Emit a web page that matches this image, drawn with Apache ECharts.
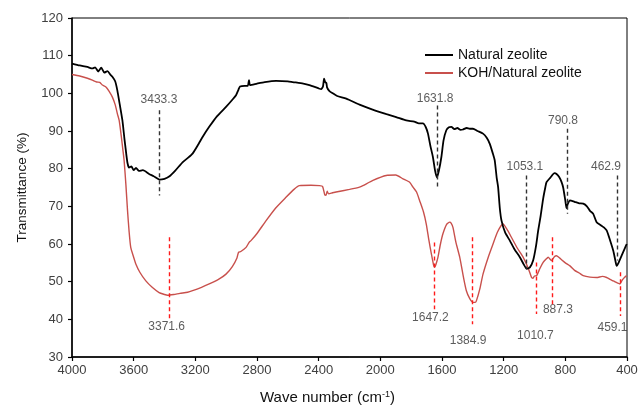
<!DOCTYPE html>
<html>
<head>
<meta charset="utf-8">
<script src="https://cdn.jsdelivr.net/npm/echarts@6/dist/echarts.min.js"></script>
<style>html,body{margin:0;padding:0;background:#fff}#c{width:640px;height:407px}</style>
</head>
<body>
<div id="c"></div>
<script>
// ---- Data ----
const seriesNames = ['Natural zeolite', 'KOH/Natural zeolite'];
const xTicks = [4000, 3600, 3200, 2800, 2400, 2000, 1600, 1200, 800, 400];
const yTicks = [30, 40, 50, 60, 70, 80, 90, 100, 110, 120];

// Natural zeolite: wavenumber / transmittance
const natWave = [4000,3950,3900,3868,3850,3830,3810,3790,3770,3750,3738,3720,3706,3690,3673,3660,3651,3640,3630,3615,3600,3585,3565,3540,3500,3470,3433,3400,3370,3330,3283,3250,3218,3180,3150,3110,3060,3001,2960,2936,2920,2910,2880,2860,2852,2845,2800,2750,2676,2600,2568,2500,2460,2400,2384,2372,2365,2358,2350,2345,2330,2308,2280,2221,2135,2050,1960,1897,1832,1780,1750,1724,1705,1691,1675,1659,1645,1633,1620,1604,1590,1572,1555,1539,1520,1500,1480,1464,1440,1420,1399,1370,1334,1310,1290,1270,1258,1245,1236,1225,1214,1190,1160,1130,1095,1070,1050,1030,1009,990,976,960,944,930,922,900,870,857,840,825,814,800,792,785,770,740,710,684,660,640,619,597,570,550,532,510,489,475,467,455,435,415,402];
const natT = [107.9,107.4,107.0,106.6,106.9,105.8,106.8,105.5,105.9,104.9,104.4,103.2,100.8,97.0,92.8,88.0,84.9,81.5,80.3,80.6,79.6,80.2,79.4,79.6,78.6,78.0,77.1,77.3,77.9,79.5,81.7,82.8,84.0,86.5,88.6,91.1,93.9,96.4,98.3,99.5,101.0,101.8,102.0,102.0,103.5,102.2,102.6,103.0,103.3,103.2,103.0,102.6,102.2,101.3,101.1,101.8,103.9,103.0,102.7,101.5,100.6,100.0,99.3,98.6,97.0,95.7,94.5,93.7,92.8,92.5,92.0,92.0,91.0,89.3,86.0,83.1,79.5,77.7,79.5,83.1,87.5,90.2,91.0,91.1,90.5,90.8,90.3,90.4,90.8,90.6,90.6,90.0,89.3,88.2,86.6,84.0,82.2,77.5,75.1,69.5,66.2,63.0,60.9,58.6,56.5,54.6,53.4,53.8,55.6,59.5,63.6,67.5,72.0,75.0,76.4,77.5,78.8,78.6,77.8,76.5,75.0,71.5,69.5,70.5,71.6,71.2,70.8,70.7,70.0,68.8,68.0,65.8,65.0,64.4,63.6,61.0,58.2,55.5,54.2,55.0,56.9,58.8,60.0];

// KOH/Natural zeolite: wavenumber / transmittance
const kohWave = [4000,3950,3900,3868,3840,3820,3803,3780,3760,3738,3720,3705,3694,3680,3670,3662,3650,3640,3630,3619,3600,3586,3560,3521,3480,3435,3400,3381,3340,3300,3250,3218,3160,3110,3050,3001,2960,2930,2920,2905,2871,2850,2839,2800,2741,2680,2612,2560,2525,2450,2395,2375,2360,2352,2345,2335,2310,2287,2200,2135,2113,2048,1962,1900,1853,1810,1788,1765,1745,1720,1702,1685,1669,1655,1648,1640,1626,1610,1594,1570,1550,1540,1529,1510,1485,1460,1442,1420,1399,1385,1377,1355,1334,1300,1269,1240,1204,1180,1150,1110,1074,1040,1019,1011,1000,986,965,944,925,911,900,889,870,857,830,800,770,740,710,684,640,597,560,532,510,489,470,460,446,430,415,402];
const kohT = [105.0,104.6,104.0,103.5,103.0,102.9,102.2,101.7,100.6,99.0,97.0,94.5,92.8,88.5,85.0,82.2,75.5,69.0,63.5,59.1,56.5,54.7,52.5,50.2,48.5,47.1,46.6,46.4,46.6,46.9,47.2,47.6,48.5,49.4,50.6,52.0,54.0,56.3,57.8,58.0,59.1,60.5,60.9,62.8,66.2,69.5,72.4,74.5,75.5,75.6,75.5,75.3,73.0,72.9,74.0,73.3,73.6,73.8,74.5,75.1,75.5,76.9,78.2,78.3,77.3,76.4,75.1,73.8,71.5,68.5,65.3,61.0,57.4,54.5,53.8,54.5,56.5,60.0,62.7,65.2,65.8,65.5,64.4,60.5,56.5,51.0,47.6,45.5,44.5,44.5,44.9,48.0,52.0,56.5,60.0,63.2,65.3,64.0,61.8,58.8,56.5,53.5,51.1,50.9,51.5,51.6,53.5,55.1,56.0,56.5,56.0,55.6,56.7,56.9,56.0,55.0,54.2,53.0,52.3,51.6,51.2,51.1,51.4,51.1,50.6,50.2,49.8,49.6,49.4,50.5,51.2,51.6];

// Peak annotations (Natural zeolite, black dashed)
const natPeakText = ['3433.3', '1631.8', '1053.1', '790.8', '462.9'];
const natPeakLineX = [3433.3, 1631.8, 1053.1, 790.8, 462.9];
const natPeakTop = [95.5, 96.8, 78.2, 90.6, 78.2];
const natPeakBottom = [72.9, 74.7, 53.4, 68.0, 55.6];
const natPeakLabelX = [3436, 1645, 1062, 815, 536];
const natPeakLabelY = [98.2, 98.6, 80.4, 92.8, 80.4];

// Peak annotations (KOH/Natural zeolite, red dashed)
const kohPeakText = ['3371.6', '1647.2', '1384.9', '1010.7', '887.3', '459.1'];
const kohPeakLineX = [3371.6, 1647.2, 1401, 986, 887.3, 441];
const kohPeakTop = [61.8, 60.4, 61.8, 55.1, 61.8, 52.5];
const kohPeakBottom = [40.0, 42.7, 38.7, 41.4, 44.0, 40.9];
const kohPeakLabelX = [3386, 1675, 1431, 994, 848, 494];
const kohPeakLabelY = [38.1, 40.5, 34.3, 35.6, 42.5, 37.8];

// ---- Build ----
const zip = (a, b) => a.map((v, i) => [v, b[i]]);
const vlines = (xs, tops, bots) => xs.map((x, i) => [{coord: [x, tops[i]]}, {coord: [x, bots[i]]}]);
const labels = (xs, ys, txt) => xs.map((x, i) => [x, ys[i], txt[i]]);

const FONT = '"Liberation Sans", Arial, sans-serif';
const chart = echarts.init(document.getElementById('c'), null, {renderer: 'canvas'});
chart.setOption({
  animation: false,
  backgroundColor: '#fff',
  textStyle: {fontFamily: FONT},
  grid: {left: 72, right: 13, top: 18, bottom: 50, show: true, borderColor: '#000', borderWidth: 1,
    containLabel: false, outerBoundsMode: 'none'},
  legend: {
    data: seriesNames,
    orient: 'vertical',
    left: 420, top: 43,
    icon: 'rect',
    itemWidth: 28, itemHeight: 2, itemGap: 4,
    textStyle: {fontFamily: FONT, fontSize: 14, color: '#111'}
  },
  xAxis: {
    type: 'value', inverse: true, min: 400, max: 4000, interval: 400,
    axisLine: {lineStyle: {color: '#000', width: 1.5}},
    axisTick: {show: true, length: 4, lineStyle: {color: '#000', width: 1.2}},
    axisLabel: {color: '#404040', fontSize: 13, fontFamily: FONT, margin: 7,
      formatter: v => xTicks.includes(v) ? String(v) : ''},
    splitLine: {show: false},
    name: 'Wave number (cm{sup|-1})',
    nameLocation: 'middle', nameGap: 33,
    nameTextStyle: {fontSize: 15, color: '#111', fontFamily: FONT, padding: [0, 44, 0, 0],
      rich: {sup: {fontSize: 9, fontFamily: FONT, color: '#111', padding: [0, 0, 7, 0]}}}
  },
  yAxis: {
    type: 'value', min: 30, max: 120, interval: 10,
    axisLine: {show: true, lineStyle: {color: '#000', width: 1.5}},
    axisTick: {show: true, length: 4, lineStyle: {color: '#000', width: 1.2}},
    axisLabel: {color: '#404040', fontSize: 13, fontFamily: FONT, margin: 9,
      formatter: v => yTicks.includes(v) ? String(v) : ''},
    splitLine: {show: false},
    name: 'Transmittance (%)',
    nameLocation: 'middle', nameGap: 43,
    nameTextStyle: {fontSize: 13.5, color: '#111', fontFamily: FONT}
  },
  series: [
    {
      name: seriesNames[0], type: 'line', data: zip(natWave, natT),
      symbol: 'none', smooth: 0.2, color: '#000',
      lineStyle: {color: '#000', width: 1.8}, z: 4,
      markLine: {
        silent: true, symbol: 'none', animation: false,
        label: {show: false},
        lineStyle: {color: '#333', type: [4, 3], width: 1.4},
        data: vlines(natPeakLineX, natPeakTop, natPeakBottom)
      }
    },
    {
      name: seriesNames[1], type: 'line', data: zip(kohWave, kohT),
      symbol: 'none', smooth: 0.2, color: '#c8504c',
      lineStyle: {color: '#c8504c', width: 1.4}, z: 3,
      markLine: {
        silent: true, symbol: 'none', animation: false,
        label: {show: false},
        lineStyle: {color: '#ff1a1a', type: [4, 3], width: 1.4},
        data: vlines(kohPeakLineX, kohPeakTop, kohPeakBottom)
      }
    },
    {
      name: 'natLabels', type: 'scatter', symbolSize: 0, silent: true,
      data: labels(natPeakLabelX, natPeakLabelY, natPeakText),
      label: {show: true, position: 'inside', formatter: p => p.value[2],
        color: '#333', fontSize: 12, fontFamily: FONT}
    },
    {
      name: 'kohLabels', type: 'scatter', symbolSize: 0, silent: true,
      data: labels(kohPeakLabelX, kohPeakLabelY, kohPeakText),
      label: {show: true, position: 'inside', formatter: p => p.value[2],
        color: '#333', fontSize: 12, fontFamily: FONT}
    }
  ]
});
</script>
</body>
</html>
